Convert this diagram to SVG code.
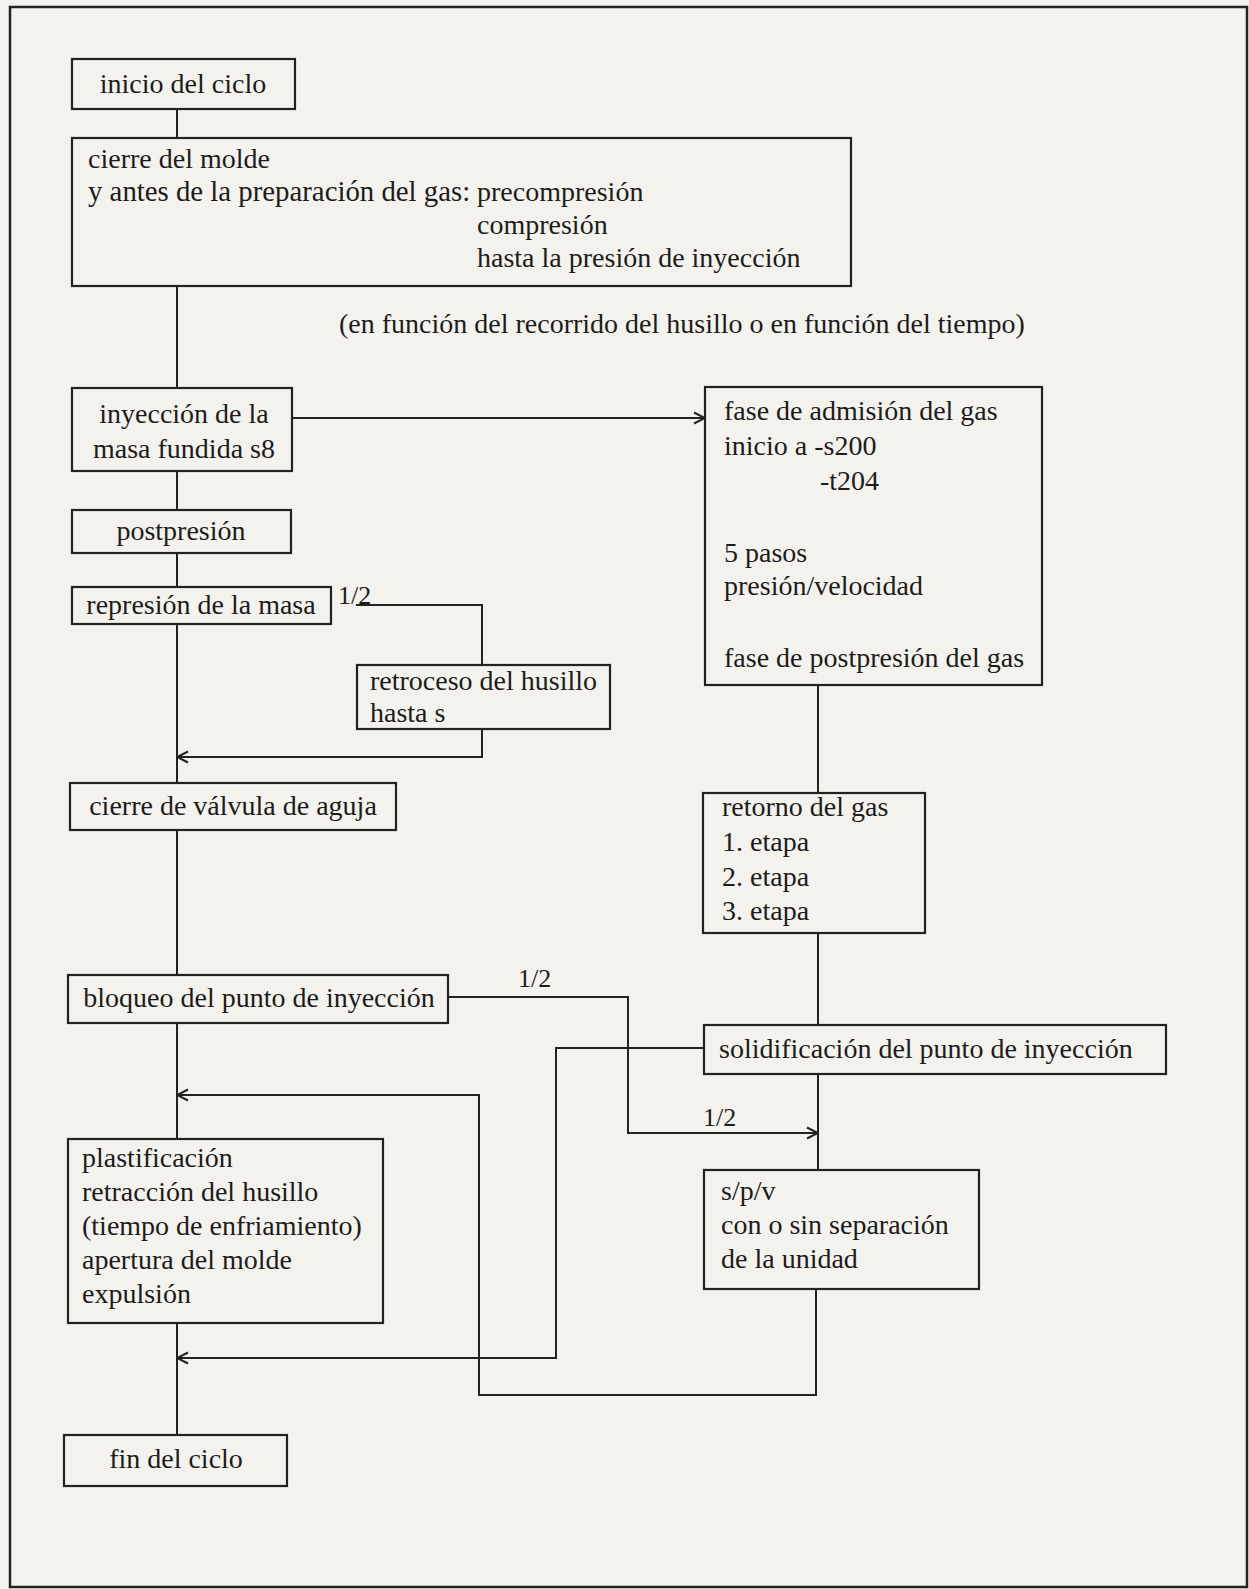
<svg xmlns="http://www.w3.org/2000/svg" width="1249" height="1589" viewBox="0 0 1249 1589">
<defs>
<style>
.bg{fill:#f3f2ec}
.box{fill:#f3f2ec;stroke:#222;stroke-width:2.2}
.ln{fill:none;stroke:#222;stroke-width:2}
text{font-family:"Liberation Serif","Times New Roman",serif;font-size:28px;fill:#1c1c1c}
.c{text-anchor:middle}
.sm{font-size:26px}
</style>
<marker id="ah" markerUnits="userSpaceOnUse" markerWidth="14" markerHeight="14" viewBox="0 0 14 14" refX="13" refY="7" orient="auto">
<path d="M2,1.5 L13,7 L2,12.5" fill="none" stroke="#222" stroke-width="2"/>
</marker>
</defs>
<rect class="bg" x="0" y="0" width="1249" height="1589"/>
<rect x="10" y="7" width="1237" height="1580" fill="none" stroke="#222" stroke-width="2.5"/>

<g id="connectors">
<path class="ln" d="M177,109 V138"/>
<path class="ln" d="M177,286 V388"/>
<path class="ln" d="M177,471 V510"/>
<path class="ln" d="M177,553 V587"/>
<path class="ln" d="M177,624 V783"/>
<path class="ln" d="M177,830 V975"/>
<path class="ln" d="M177,1023 V1139"/>
<path class="ln" d="M177,1323 V1435"/>
<path class="ln" d="M292,418 H705" marker-end="url(#ah)"/>
<path class="ln" d="M356,605 H482 V665"/>
<path class="ln" d="M482,729 V757 H177" marker-end="url(#ah)"/>
<path class="ln" d="M818,685 V793"/>
<path class="ln" d="M818,933 V1025"/>
<path class="ln" d="M818,1074 V1170"/>
<path class="ln" d="M448,997 H628 V1133 H818" marker-end="url(#ah)"/>
<path class="ln" d="M704,1048 H556 V1358 H177" marker-end="url(#ah)"/>
<path class="ln" d="M816,1289 V1395 H479 V1095 H177" marker-end="url(#ah)"/>
<text class="sm" x="338" y="604">1/2</text>
<text class="sm" x="518" y="987">1/2</text>
<text class="sm" x="703" y="1126">1/2</text>
</g>

<g id="n-inicio">
<rect class="box" x="72" y="59" width="223" height="50"/>
<text class="c" x="183" y="93">inicio del ciclo</text>
</g>

<g id="n-cierre-molde">
<rect class="box" x="72" y="138" width="779" height="148"/>
<text x="88" y="168">cierre del molde</text>
<text x="88" y="201" style="font-size:28.8px">y antes de la preparación del gas:</text>
<text x="477" y="201">precompresión</text>
<text x="477" y="234">compresión</text>
<text x="477" y="267">hasta la presión de inyección</text>
</g>

<g id="n-nota">
<text x="339" y="333">(en función del recorrido del husillo o en función del tiempo)</text>
</g>

<g id="n-inyeccion">
<rect class="box" x="72" y="388" width="220" height="83"/>
<text class="c" x="184" y="423">inyección de la</text>
<text class="c" x="184" y="458">masa fundida s8</text>
</g>

<g id="n-fase-admision">
<rect class="box" x="705" y="387" width="337" height="298"/>
<text x="724" y="420">fase de admisión del gas</text>
<text x="724" y="455">inicio a -s200</text>
<text x="820" y="490">-t204</text>
<text x="724" y="562">5 pasos</text>
<text x="724" y="595">presión/velocidad</text>
<text x="724" y="667">fase de postpresión del gas</text>
</g>

<g id="n-postpresion">
<rect class="box" x="72" y="510" width="219" height="43"/>
<text class="c" x="181" y="540">postpresión</text>
</g>

<g id="n-represion">
<rect class="box" x="72" y="587" width="259" height="37"/>
<text class="c" x="201" y="614">represión de la masa</text>
</g>

<g id="n-retroceso">
<rect class="box" x="357" y="665" width="253" height="64"/>
<text x="370" y="690">retroceso del husillo</text>
<text x="370" y="722">hasta s</text>
</g>

<g id="n-valvula">
<rect class="box" x="70" y="783" width="326" height="47"/>
<text class="c" x="233" y="815">cierre de válvula de aguja</text>
</g>

<g id="n-retorno">
<rect class="box" x="703" y="793" width="222" height="140"/>
<text x="722" y="816">retorno del gas</text>
<text x="722" y="851">1. etapa</text>
<text x="722" y="886">2. etapa</text>
<text x="722" y="920">3. etapa</text>
</g>

<g id="n-bloqueo">
<rect class="box" x="68" y="975" width="380" height="48"/>
<text class="c" x="259" y="1007">bloqueo del punto de inyección</text>
</g>

<g id="n-solidificacion">
<rect class="box" x="704" y="1025" width="462" height="49"/>
<text x="719" y="1058">solidificación del punto de inyección</text>
</g>

<g id="n-spv">
<rect class="box" x="704" y="1170" width="275" height="119"/>
<text x="721" y="1200">s/p/v</text>
<text x="721" y="1234">con o sin separación</text>
<text x="721" y="1268">de la unidad</text>
</g>

<g id="n-plastificacion">
<rect class="box" x="68" y="1139" width="315" height="184"/>
<text x="82" y="1167">plastificación</text>
<text x="82" y="1201">retracción del husillo</text>
<text x="82" y="1235">(tiempo de enfriamiento)</text>
<text x="82" y="1269">apertura del molde</text>
<text x="82" y="1303">expulsión</text>
</g>

<g id="n-fin">
<rect class="box" x="64" y="1435" width="223" height="51"/>
<text class="c" x="176" y="1468">fin del ciclo</text>
</g>
</svg>
